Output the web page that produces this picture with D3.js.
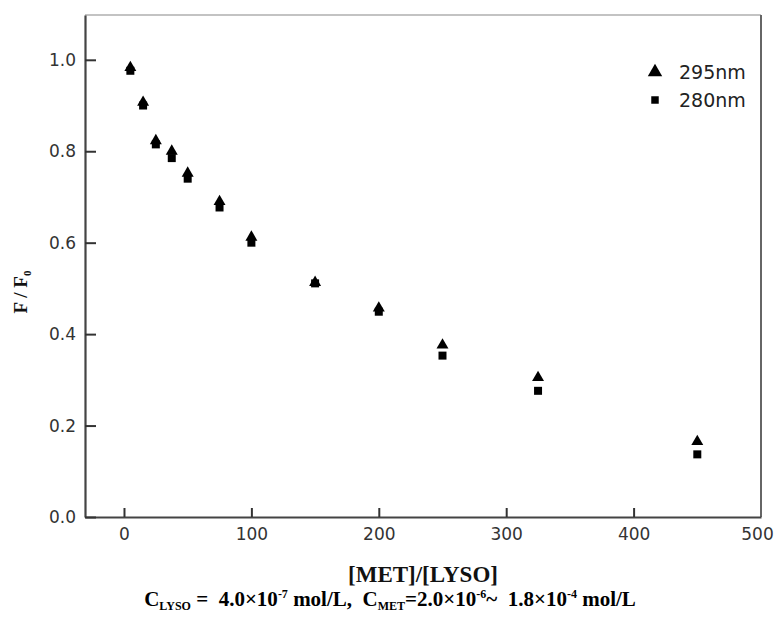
<!DOCTYPE html>
<html>
<head>
<meta charset="utf-8">
<script src="https://cdn.jsdelivr.net/npm/d3@7"></script>
<style>
  body { margin: 0; background: #fff; }
  text { font-family: "DejaVu Sans", Arial, sans-serif; }
  .serif { font-family: "Liberation Serif", "Times New Roman", serif; font-weight: bold; }
</style>
</head>
<body>
<div class="canvas"></div>
<script>
// data
const ratios = [5, 15, 25, 37.5, 50, 75, 100, 150, 200, 250, 325, 450];
const f295 = [0.983, 0.907, 0.823, 0.800, 0.752, 0.690, 0.612, 0.513, 0.457, 0.376, 0.305, 0.165];
const f280 = [0.976, 0.900, 0.815, 0.785, 0.740, 0.677, 0.600, 0.511, 0.449, 0.353, 0.276, 0.137];
const xTicks = [0, 100, 200, 300, 400, 500];
const yTicks = [0.0, 0.2, 0.4, 0.6, 0.8, 1.0];
const seriesNames = ['295nm', '280nm'];

const svg = d3.select('.canvas')
	.append('svg')
	.attr('width', 777)
	.attr('height', 618);

const margin = {top: 15, right: 16, bottom: 101, left: 85};
const graphWidth = 777 - margin.left - margin.right;
const graphHeight = 618 - margin.top - margin.bottom;

const graph = svg.append('g')
	.attr('transform', `translate(${margin.left},${margin.top})`);

const x = d3.scaleLinear()
	.domain([-30.6, 500])
	.range([0, graphWidth]);

const y = d3.scaleLinear()
	.domain([0, 1.098])
	.range([graphHeight, 0]);

// frame (top / right)
graph.append('line')
	.attr('x1', 0).attr('x2', graphWidth)
	.attr('y1', 0).attr('y2', 0)
	.attr('stroke', '#888').attr('stroke-width', 1.2);
graph.append('line')
	.attr('x1', graphWidth).attr('x2', graphWidth)
	.attr('y1', 0).attr('y2', graphHeight)
	.attr('stroke', '#666').attr('stroke-width', 2);

// axes
const xAxis = d3.axisBottom(x)
	.tickValues(xTicks)
	.tickSizeInner(-9)
	.tickSizeOuter(0)
	.tickPadding(11)
	.tickFormat(d3.format('d'));
const yAxis = d3.axisLeft(y)
	.tickValues(yTicks)
	.tickSizeInner(-11)
	.tickSizeOuter(0)
	.tickPadding(9)
	.tickFormat(d3.format('.1f'));

const xAxisGroup = graph.append('g')
	.attr('transform', `translate(0,${graphHeight})`)
	.call(xAxis);
const yAxisGroup = graph.append('g')
	.call(yAxis);

[xAxisGroup, yAxisGroup].forEach(g => {
	g.select('.domain').attr('stroke', '#444').attr('stroke-width', 2.2);
	g.selectAll('.tick line').attr('stroke', '#333').attr('stroke-width', 2);
	g.selectAll('.tick text')
		.attr('fill', '#333')
		.style('font-size', '17px')
		.style('font-family', '"DejaVu Sans", Arial, sans-serif');
});
// last x tick: no tick line at the right edge, label kept inside the page
const lastTick = xAxisGroup.selectAll('.tick').filter(d => d === 500);
lastTick.select('line').remove();
lastTick.select('text').attr('dx', -4);

// markers
const tri = d3.symbol().type(d3.symbolTriangle).size(62);
const sq = d3.symbol().type(d3.symbolSquare).size(64);

graph.selectAll('.sq')
	.data(ratios.map((r, i) => ({r, v: f280[i]})))
	.enter()
	.append('path')
	.attr('class', 'sq')
	.attr('d', sq)
	.attr('fill', '#000')
	.attr('transform', d => `translate(${x(d.r)},${y(d.v)})`);

graph.selectAll('.tri')
	.data(ratios.map((r, i) => ({r, v: f295[i]})))
	.enter()
	.append('path')
	.attr('class', 'tri')
	.attr('d', tri)
	.attr('fill', '#000')
	.attr('transform', d => `translate(${x(d.r)},${y(d.v)})`);

// legend
const legend = graph.append('g')
	.attr('transform', `translate(${655 - margin.left},${72 - margin.top})`);
legend.append('path').attr('d', d3.symbol().type(d3.symbolTriangle).size(90)).attr('fill', '#000');
legend.append('text').attr('x', 24).attr('y', 7).text(seriesNames[0])
	.attr('fill', '#222').style('font-size', '19px');
legend.append('path').attr('d', d3.symbol().type(d3.symbolSquare).size(56))
	.attr('transform', 'translate(0,28)').attr('fill', '#000');
legend.append('text').attr('x', 24).attr('y', 35).text(seriesNames[1])
	.attr('fill', '#222').style('font-size', '19px');

// axis titles
svg.append('text')
	.attr('class', 'serif')
	.attr('x', margin.left + graphWidth / 2)
	.attr('y', 582)
	.attr('text-anchor', 'middle')
	.style('font-size', '23px')
	.attr('fill', '#111')
	.text('[MET]/[LYSO]');

const yl = svg.append('text')
	.attr('class', 'serif')
	.attr('transform', 'translate(27,292) rotate(-90)')
	.attr('text-anchor', 'middle')
	.style('font-size', '19px')
	.attr('fill', '#111');
yl.append('tspan').text('F / F');
yl.append('tspan').attr('dy', 4).style('font-size', '11px').text('0');

// caption
const cap = svg.append('text')
	.attr('class', 'serif')
	.attr('x', 390)
	.attr('y', 606)
	.attr('text-anchor', 'middle')
	.style('font-size', '21px')
	.style('white-space', 'pre')
	.attr('fill', '#000');
cap.append('tspan').text('C');
cap.append('tspan').attr('dy', 4).style('font-size', '12px').text('LYSO');
cap.append('tspan').attr('dy', -4).text(' =  4.0×10');
cap.append('tspan').attr('dy', -8).style('font-size', '12px').text('-7');
cap.append('tspan').attr('dy', 8).text(' mol/L,  C');
cap.append('tspan').attr('dy', 4).style('font-size', '12px').text('MET');
cap.append('tspan').attr('dy', -4).text('=2.0×10');
cap.append('tspan').attr('dy', -8).style('font-size', '12px').text('-6');
cap.append('tspan').attr('dy', 8).text('~  1.8×10');
cap.append('tspan').attr('dy', -8).style('font-size', '12px').text('-4');
cap.append('tspan').attr('dy', 8).text(' mol/L');
</script>
</body>
</html>
